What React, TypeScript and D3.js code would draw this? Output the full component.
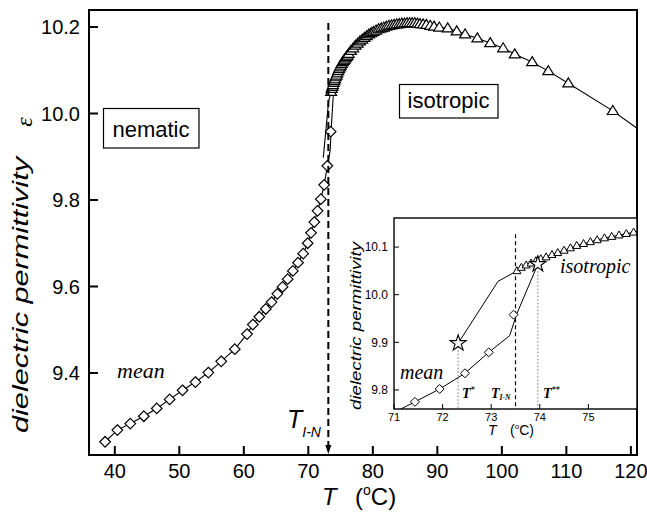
import React from "react";
import * as d3 from "d3";

// ---------- data ----------
const diamondT = [38.5, 40.4, 42.4, 44.5, 46.5, 48.5, 50.5, 52.5, 54.5, 56.5, 58.6, 60.5, 61.4, 62.4, 63.4, 64.3, 65.2, 66.0, 66.8, 67.6, 68.4, 69.2, 69.9, 70.42, 70.93, 71.43, 71.94, 72.46, 72.95, 73.46];
const diamondE = [9.241, 9.268, 9.283, 9.300, 9.318, 9.339, 9.360, 9.379, 9.401, 9.427, 9.455, 9.490, 9.512, 9.530, 9.548, 9.564, 9.583, 9.599, 9.617, 9.636, 9.655, 9.676, 9.700, 9.724, 9.749, 9.775, 9.802, 9.835, 9.879, 9.958];

const triangleT = [73.53, 73.62, 73.72, 73.82, 73.92, 74.02, 74.13, 74.25, 74.37, 74.5, 74.63, 74.76, 74.9, 75.04, 75.18, 75.33, 75.48, 75.63, 75.78, 75.93, 76.08,
  76.25, 76.6, 76.95, 77.3, 77.65, 78.0, 78.35, 78.7, 79.05, 79.4, 79.75, 80.1, 80.5, 80.9, 81.3, 81.7, 82.1, 82.5, 82.9, 83.3, 83.7, 84.1, 84.5, 84.9, 85.3, 85.7, 86.1, 86.5, 86.9, 87.3, 87.8, 88.3, 88.9, 89.5, 90.3,
  91.6, 93.0, 94.3, 96.2, 98.2, 100.2, 102.0, 104.7, 107.2, 110.3, 117.2];
const triangleE = [10.050, 10.057, 10.062, 10.066, 10.071, 10.075, 10.079, 10.084, 10.088, 10.093, 10.098, 10.103, 10.107, 10.111, 10.115, 10.119, 10.122, 10.125, 10.128, 10.131, 10.134,
  10.138, 10.145, 10.151, 10.157, 10.162, 10.167, 10.171, 10.175, 10.179, 10.183, 10.186, 10.189, 10.192, 10.195, 10.197, 10.199, 10.201, 10.203, 10.204, 10.205, 10.206, 10.207, 10.208, 10.208, 10.209, 10.209, 10.209, 10.209, 10.208, 10.207, 10.206, 10.205, 10.203, 10.201, 10.199,
  10.197, 10.190, 10.183, 10.174, 10.163, 10.151, 10.137, 10.119, 10.098, 10.070, 10.006];

// heating branch kink after the last diamonds
const kinkT = [73.38, 73.52, 73.96];
const kinkE = [9.914, 9.958, 10.064];
// cooling branch from T*
const coolT = [72.32, 73.14, 73.53];
const coolE = [9.898, 10.028, 10.05];
// stars T* and T**
const starT = [72.32, 73.96];
const starE = [9.898, 10.064];
// end of fit line at the right border
const endT = 120.95;
const endE = 9.966;

const tIN_main = 73.1;
const tIN_inset = 73.5;

const mainXTicks = [40, 50, 60, 70, 80, 90, 100, 110, 120];
const mainYTicks = [9.4, 9.6, 9.8, 10.0, 10.2];
const insetXTicks = [71, 72, 73, 74, 75];
const insetYTicks = [9.8, 9.9, 10.0, 10.1];

const SANS = "'Liberation Sans', Arial, sans-serif";
const SERIF = "'Liberation Serif', 'Times New Roman', serif";

type P = [number, number];
const zip = (a: number[], b: number[]): P[] => a.map((v, i) => [v, b[i]]);

export default function App() {
  // main scales
  const x = d3.scaleLinear().domain([36, 120.95]).range([89, 637]);
  const y = d3.scaleLinear().domain([9.2104, 10.2393]).range([455, 10]);
  // inset scales
  const xi = d3.scaleLinear().domain([71, 76]).range([394, 637]);
  const yi = d3.scaleLinear().domain([9.76, 10.161]).range([409, 218]);

  const diamonds = zip(diamondT, diamondE);
  const triangles = zip(triangleT, triangleE);
  const kink = zip(kinkT, kinkE);
  const cool = zip(coolT, coolE);
  const stars = zip(starT, starE);

  const pathA: P[] = [
    ...diamonds.filter((d) => d[0] <= 72.95),
    ...kink,
    ...triangles.filter((d) => d[0] > 73.96),
    [endT, endE],
  ];
  const pathB: P[] = [...cool, ...triangles.filter((d) => d[0] > 73.53 && d[0] <= 74.02)];

  const lineMain = d3.line<P>().x((d) => x(d[0])).y((d) => y(d[1]));
  const lineIn = d3.line<P>().x((d) => xi(d[0])).y((d) => yi(d[1]));

  const diamondPath = (r: number) => `M0,${-r}L${r},0L0,${r}L${-r},0Z`;
  const triPath = (w: number, h: number) => `M0,${-h * 0.6}L${w / 2},${h * 0.4}L${-w / 2},${h * 0.4}Z`;
  const starPath = d3.symbol().type(d3.symbolStar).size(80)() as string;

  const insetW = 637 - 394;
  const insetH = 409 - 218;

  return (
    <svg width={647} height={515} style={{ position: "absolute", left: 0, top: 0, background: "#fff" }}>
      <defs>
        <clipPath id="insetClip">
          <rect x={394} y={218} width={insetW} height={insetH} />
        </clipPath>
        <clipPath id="mainClip">
          <rect x={89} y={10} width={548} height={445} />
        </clipPath>
      </defs>
      <rect x={0} y={0} width={647} height={515} fill="#fff" />

      {/* ---------- main plot ---------- */}
      <g clipPath="url(#mainClip)">
        <path d={lineMain(pathA) as string} fill="none" stroke="#000" strokeWidth={1.1} />
        <path d={lineMain(pathB) as string} fill="none" stroke="#000" strokeWidth={1.1} />
        {triangles.map((d, i) => (
          <path key={"t" + i} d={triPath(11, 9)} transform={`translate(${x(d[0])},${y(d[1])})`} fill="#fff" stroke="#000" strokeWidth={1.2} />
        ))}
        {diamonds.map((d, i) => (
          <path key={"d" + i} d={diamondPath(5.3)} transform={`translate(${x(d[0])},${y(d[1])})`} fill="#fff" stroke="#000" strokeWidth={1.2} />
        ))}
      </g>

      {/* dashed T_I-N line with arrow */}
      <line x1={x(tIN_main)} x2={x(tIN_main)} y1={y(10.209)} y2={447} stroke="#000" strokeWidth={2} strokeDasharray="7,4" />
      <path d={`M${x(tIN_main) - 3},${445}L${x(tIN_main) + 3},${445}L${x(tIN_main)},${454}Z`} fill="#000" />

      {/* main frame */}
      <rect x={89} y={10} width={548} height={445} fill="none" stroke="#000" strokeWidth={2} />
      {mainXTicks.map((t) => (
        <g key={"mx" + t}>
          <line x1={x(t)} x2={x(t)} y1={455} y2={446} stroke="#000" strokeWidth={2} />
          <text x={x(t)} y={478} fontFamily={SANS} fontSize={20} textAnchor="middle">{t}</text>
        </g>
      ))}
      {mainYTicks.map((t) => (
        <g key={"my" + t}>
          <line x1={89} x2={98} y1={y(t)} y2={y(t)} stroke="#000" strokeWidth={2} />
          <text x={80} y={y(t)} dy="0.36em" fontFamily={SANS} fontSize={20} textAnchor="end">{t.toFixed(1)}</text>
        </g>
      ))}

      {/* main axis labels */}
      <text x={322} y={505} fontFamily={SANS} fontSize={24} fontStyle="italic">T</text>
      <text x={355} y={505} fontFamily={SANS} fontSize={24}>
        (<tspan fontSize={14} dy={-10}>o</tspan><tspan dy={10}>C)</tspan>
      </text>
      <text transform="translate(28,295) rotate(-90)" fontFamily={SANS} fontSize={22} fontStyle="italic" textAnchor="middle" textLength={276} lengthAdjust="spacingAndGlyphs">dielectric permittivity</text>
      <text transform="translate(32,122) rotate(-90)" fontFamily={SERIF} fontSize={24} fontStyle="italic" textAnchor="middle">ε</text>

      {/* main annotations */}
      <rect x={103.5} y={108.5} width={95.5} height={39.5} fill="#fff" stroke="#000" strokeWidth={1.2} />
      <text x={151} y={137} fontFamily={SANS} fontSize={22} textAnchor="middle">nematic</text>
      <rect x={399.5} y={84.5} width={98.5} height={33.5} fill="#fff" stroke="#000" strokeWidth={1.2} />
      <text x={448.5} y={108} fontFamily={SANS} fontSize={22} textAnchor="middle">isotropic</text>
      <text x={117} y={378} fontFamily={SERIF} fontSize={22} fontStyle="italic">mean</text>
      <text x={287} y={428} fontFamily={SANS} fontSize={25} fontStyle="italic">
        T<tspan fontSize={14} dy={9}>I-N</tspan>
      </text>

      {/* ---------- inset ---------- */}
      <rect x={394} y={218} width={insetW} height={insetH} fill="#fff" />
      <g clipPath="url(#insetClip)">
        <line x1={xi(tIN_inset)} x2={xi(tIN_inset)} y1={yi(10.127)} y2={409} stroke="#000" strokeWidth={1.2} strokeDasharray="4,3" />
        {stars.map((d, i) => (
          <line key={"sl" + i} x1={xi(d[0])} x2={xi(d[0])} y1={yi(d[1])} y2={409} stroke="#777" strokeWidth={1} strokeDasharray="1.5,2" />
        ))}
        <path d={lineIn(pathA) as string} fill="none" stroke="#000" strokeWidth={1} />
        <path d={lineIn(pathB) as string} fill="none" stroke="#000" strokeWidth={1} />
        {triangles.map((d, i) => (
          <path key={"ti" + i} d={triPath(8, 7)} transform={`translate(${xi(d[0])},${yi(d[1])})`} fill="#fff" stroke="#000" strokeWidth={1} />
        ))}
        {diamonds.map((d, i) => (
          <path key={"di" + i} d={diamondPath(4.5)} transform={`translate(${xi(d[0])},${yi(d[1])})`} fill="#fff" stroke="#000" strokeWidth={1} />
        ))}
        {stars.map((d, i) => (
          <path key={"s" + i} d={starPath} transform={`translate(${xi(d[0])},${yi(d[1])})`} fill="#fff" stroke="#000" strokeWidth={1.1} />
        ))}
      </g>
      <rect x={394} y={218} width={insetW} height={insetH} fill="none" stroke="#000" strokeWidth={1.4} />
      {insetXTicks.map((t) => (
        <g key={"ix" + t}>
          <line x1={xi(t)} x2={xi(t)} y1={409} y2={404} stroke="#000" strokeWidth={1} />
          <text x={xi(t)} y={421} fontFamily={SANS} fontSize={11} textAnchor="middle">{t}</text>
        </g>
      ))}
      {insetYTicks.map((t) => (
        <g key={"iy" + t}>
          <line x1={394} x2={399} y1={yi(t)} y2={yi(t)} stroke="#000" strokeWidth={1} />
          <text x={388} y={yi(t)} dy="0.36em" fontFamily={SANS} fontSize={12} textAnchor="end">{t.toFixed(1)}</text>
        </g>
      ))}
      <text x={488} y={435} fontFamily={SANS} fontSize={14} fontStyle="italic">T</text>
      <text x={510} y={435} fontFamily={SANS} fontSize={14}>
        (<tspan fontSize={8} dy={-6}>o</tspan><tspan dy={6}>C)</tspan>
      </text>
      <text transform="translate(361,326) rotate(-90)" fontFamily={SANS} fontSize={14} fontStyle="italic" textAnchor="middle" textLength={168} lengthAdjust="spacingAndGlyphs">dielectric permittivity</text>

      <text x={400} y={379} fontFamily={SERIF} fontSize={20} fontStyle="italic">mean</text>
      <text x={560} y={273} fontFamily={SERIF} fontSize={20} fontStyle="italic">isotropic</text>
      <text x={462} y={398} fontFamily={SERIF} fontSize={14} fontStyle="italic" fontWeight="bold">
        T<tspan fontSize={8} dy={-6}>*</tspan>
      </text>
      <text x={491} y={398} fontFamily={SERIF} fontSize={14} fontStyle="italic" fontWeight="bold">
        T<tspan fontSize={7.5} dy={2}>I-N</tspan>
      </text>
      <text x={543} y={398} fontFamily={SERIF} fontSize={14} fontStyle="italic" fontWeight="bold">
        T<tspan fontSize={8} dy={-6}>**</tspan>
      </text>
    </svg>
  );
}
